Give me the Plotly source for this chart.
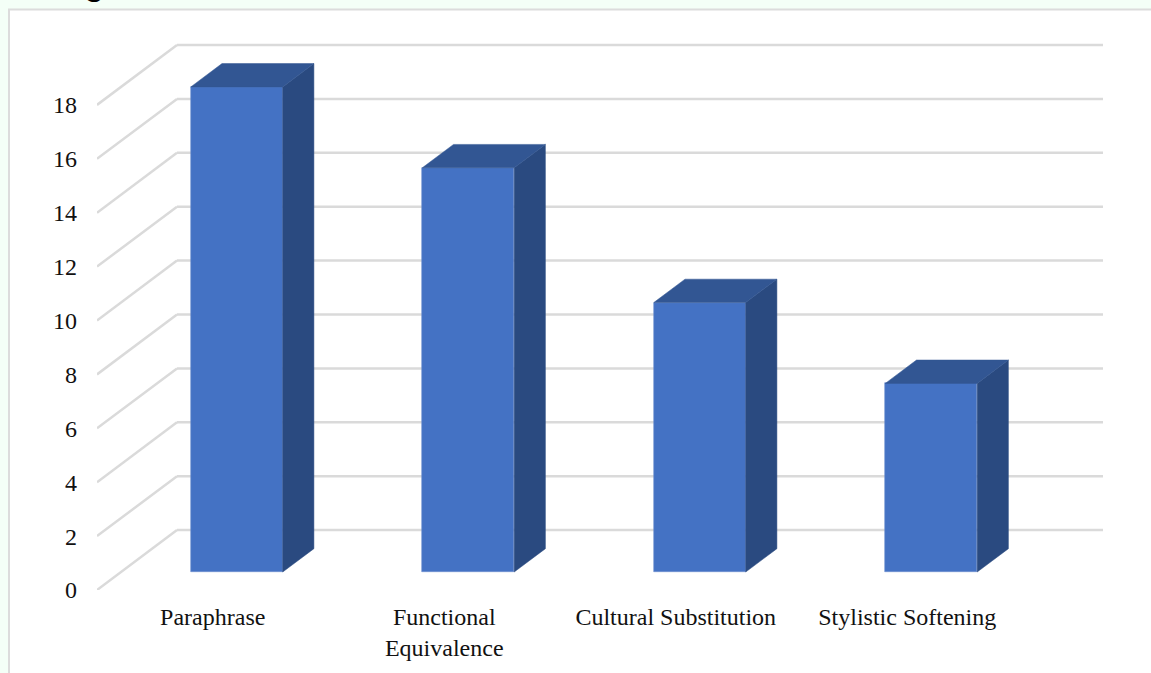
import plotly.graph_objects as go

categories = ["Paraphrase", "Functional<br>Equivalence", "Cultural Substitution", "Stylistic Softening"]
values = [18, 15, 10, 7]
y_ticks = [0, 2, 4, 6, 8, 10, 12, 14, 16, 18]

WIDTH, HEIGHT = 1151, 673
LEFT, RIGHT, TOP, FLOOR = 97, 1103, 40.5, 590.5
SERIF = "Liberation Serif"

# Oblique projection: how far the back of the floor shifts, in axis units
CAT_PX = 231.5
UNIT_PX = 27.0
FLOOR_DX = 80 / CAT_PX
FLOOR_DY = 60 / UNIT_PX

# Bars occupy the middle of the floor depth and about 40% of each category slot
BAR_NEAR, BAR_FAR = 0.3, 0.69
BAR_WIDTH = 0.397

FRONT, TOP_FACE, SIDE_FACE = "#4472C4", "#325693", "#2A4A80"
GRID = "#DADADA"


def project(x, y, depth):
    return x + depth * FLOOR_DX, y + depth * FLOOR_DY


positions = list(range(len(categories)))
x_near = [p + BAR_NEAR * FLOOR_DX for p in positions]

fig = go.Figure()

# Front faces
fig.add_trace(go.Bar(
    x=x_near, y=values, base=BAR_NEAR * FLOOR_DY, width=BAR_WIDTH,
    marker=dict(color=FRONT, line=dict(color="#6E8FD0", width=0.6)),
    showlegend=False, hoverinfo="skip",
))

# Side and top faces
for p, v in zip(positions, values):
    lx, rx = p - BAR_WIDTH / 2, p + BAR_WIDTH / 2
    corners_side = [project(rx, 0, BAR_NEAR), project(rx, 0, BAR_FAR),
                    project(rx, v, BAR_FAR), project(rx, v, BAR_NEAR)]
    corners_top = [project(lx, v, BAR_NEAR), project(rx, v, BAR_NEAR),
                   project(rx, v, BAR_FAR), project(lx, v, BAR_FAR)]
    for corners, color in ((corners_side, SIDE_FACE), (corners_top, TOP_FACE)):
        xs, ys = zip(*(corners + corners[:1]))
        fig.add_trace(go.Scatter(
            x=xs, y=ys, mode="lines", fill="toself", fillcolor=color,
            line=dict(color=color, width=0.5),
            showlegend=False, hoverinfo="skip",
        ))

x_lo, x_hi = -0.5, len(categories) - 0.5 + FLOOR_DX
y_hi = (FLOOR - TOP) / UNIT_PX

# Wall and floor gridlines sit behind the bars
shapes = []
for t in y_ticks:
    bx, by = project(x_lo, t, 1)
    shapes.append(dict(type="line", xref="x", yref="y", layer="below",
                       x0=x_lo, y0=t, x1=bx, y1=by,
                       line=dict(color=GRID, width=2.5)))
    shapes.append(dict(type="line", xref="x", yref="y", layer="below",
                       x0=bx, y0=by, x1=x_hi, y1=by,
                       line=dict(color=GRID, width=2.5)))

# White panel with its thin border on the pale page
shapes.append(dict(type="rect", xref="paper", yref="paper", layer="below",
                   x0=(9 - LEFT) / (RIGHT - LEFT),
                   x1=(WIDTH + 20 - LEFT) / (RIGHT - LEFT),
                   y0=(FLOOR - HEIGHT - 20) / (FLOOR - TOP),
                   y1=(FLOOR - 9) / (FLOOR - TOP),
                   fillcolor="white", line=dict(color="#DCDCDC", width=2)))

fig.update_layout(
    width=WIDTH, height=HEIGHT,
    margin=dict(l=LEFT, r=WIDTH - RIGHT, t=TOP, b=HEIGHT - FLOOR, pad=0),
    paper_bgcolor="#F4FFF7", plot_bgcolor="rgba(0,0,0,0)",
    shapes=shapes, showlegend=False, bargap=0,
    font=dict(family=SERIF, color="#111111", size=24),
    xaxis=dict(range=[x_lo, x_hi], tickmode="array", tickvals=positions,
               ticktext=categories, showgrid=False, zeroline=False,
               showline=False, ticks="", ticklabelstandoff=10,
               tickangle=0, tickfont=dict(family=SERIF, size=24, color="#111111")),
    yaxis=dict(range=[0, y_hi], tickmode="array", tickvals=y_ticks,
               showgrid=False, zeroline=False, showline=False, ticks="",
               ticklabelstandoff=19,
               tickfont=dict(family=SERIF, size=24, color="#111111")),
    # Page heading running off the top edge
    annotations=[dict(text="<b>Fig</b>", xref="paper", yref="paper",
                      x=(54 - LEFT) / (RIGHT - LEFT),
                      y=(FLOOR - 3) / (FLOOR - TOP),
                      xanchor="left", yanchor="bottom", showarrow=False,
                      font=dict(family="Liberation Sans", size=32, color="#000000"))],
)

fig.write_html("out.html")
